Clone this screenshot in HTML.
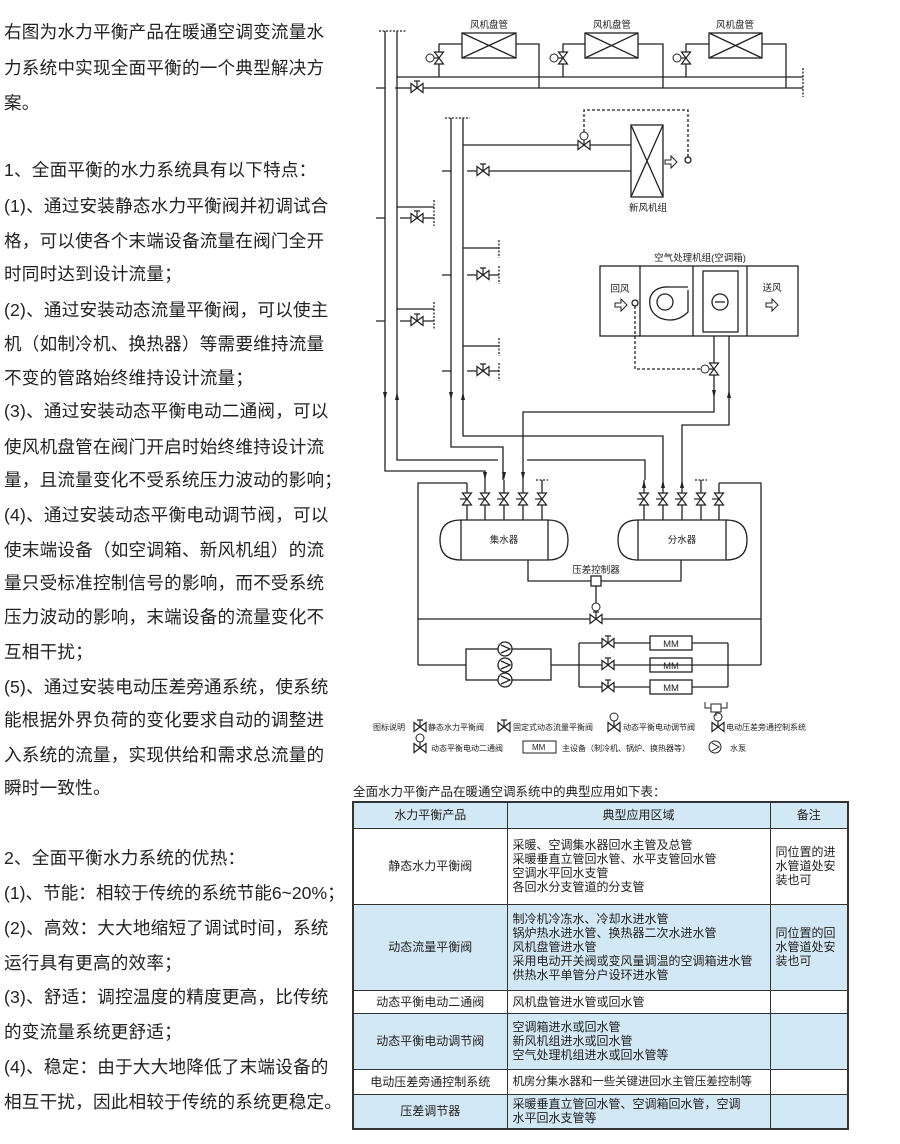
<!DOCTYPE html>
<html><head><meta charset="utf-8"><style>
body{margin:0;width:900px;height:1144px;background:#fff;position:relative;overflow:hidden;font-family:"Liberation Sans","Noto Sans CJK SC",sans-serif;color:#222}
.l{position:absolute;left:4px;font-size:17.6px;line-height:20px;white-space:nowrap;letter-spacing:0.2px}
svg{position:absolute;left:0;top:0}
svg text{font-family:"Liberation Sans","Noto Sans CJK SC",sans-serif;fill:#222}
table{position:absolute;left:352px;top:801px;width:497px;border-collapse:collapse;font-size:12px;line-height:14px;border:2px solid #333}
td{border:1.5px solid #333;padding:0 5px;vertical-align:middle}
.b{background:#d3e8f5}
.c{text-align:center}
.cap{position:absolute;left:353px;top:781px;font-size:12.5px;white-space:nowrap}
</style></head><body>
<div class="l" style="top:22px">右图为水力平衡产品在暖通空调变流量水</div>
<div class="l" style="top:58px">力系统中实现全面平衡的一个典型解决方</div>
<div class="l" style="top:93px">案。</div>
<div class="l" style="top:160px">1、全面平衡的水力系统具有以下特点：</div>
<div class="l" style="top:196px">(1)、通过安装静态水力平衡阀并初调试合</div>
<div class="l" style="top:231px">格，可以使各个末端设备流量在阀门全开</div>
<div class="l" style="top:264px">时同时达到设计流量；</div>
<div class="l" style="top:300px">(2)、通过安装动态流量平衡阀，可以使主</div>
<div class="l" style="top:334px">机（如制冷机、换热器）等需要维持流量</div>
<div class="l" style="top:368px">不变的管路始终维持设计流量；</div>
<div class="l" style="top:401px">(3)、通过安装动态平衡电动二通阀，可以</div>
<div class="l" style="top:437px">使风机盘管在阀门开启时始终维持设计流</div>
<div class="l" style="top:470px">量，且流量变化不受系统压力波动的影响；</div>
<div class="l" style="top:505px">(4)、通过安装动态平衡电动调节阀，可以</div>
<div class="l" style="top:540px">使末端设备（如空调箱、新风机组）的流</div>
<div class="l" style="top:573px">量只受标准控制信号的影响，而不受系统</div>
<div class="l" style="top:607px">压力波动的影响，末端设备的流量变化不</div>
<div class="l" style="top:642px">互相干扰；</div>
<div class="l" style="top:677px">(5)、通过安装电动压差旁通系统，使系统</div>
<div class="l" style="top:710px">能根据外界负荷的变化要求自动的调整进</div>
<div class="l" style="top:745px">入系统的流量，实现供给和需求总流量的</div>
<div class="l" style="top:778px">瞬时一致性。</div>
<div class="l" style="top:848px">2、全面平衡水力系统的优热：</div>
<div class="l" style="top:883px;letter-spacing:0">(1)、节能：相较于传统的系统节能6~20%；</div>
<div class="l" style="top:918px">(2)、高效：大大地缩短了调试时间，系统</div>
<div class="l" style="top:953px">运行具有更高的效率；</div>
<div class="l" style="top:987px">(3)、舒适：调控温度的精度更高，比传统</div>
<div class="l" style="top:1022px">的变流量系统更舒适；</div>
<div class="l" style="top:1057px">(4)、稳定：由于大大地降低了末端设备的</div>
<div class="l" style="top:1092px">相互干扰，因此相较于传统的系统更稳定。</div>

<svg width="900" height="780" viewBox="0 0 900 780">
<defs>
<g id="v"><path d="M-6,-4.5 L6,4.5 L6,-4.5 L-6,4.5 Z" fill="#fff" stroke="#222" stroke-width="1.2"/><path d="M0,0 V-7 M-3,-7 H3" stroke="#222" stroke-width="1.2"/></g>
<g id="vv"><path d="M-4.5,-6 L4.5,6 L-4.5,6 L4.5,-6 Z" fill="#fff" stroke="#222" stroke-width="1.2"/><path d="M0,0 H-7" stroke="#222" stroke-width="1.2"/></g>
<g id="g"><circle r="4" fill="#fff" stroke="#222" stroke-width="1"/></g>
</defs>
<g stroke="#222" stroke-width="1.3" fill="none">
<path d="M385,31 V471 H485 V480 M397,31 V460 H498 M527,460 H645 V480"/>
<path d="M379,31 H406 M445,118 H470" stroke-dasharray="2,1.5"/>
<path d="M451,118 V447 H503 V480 M463,118 V436 H663 V480"/>
<path d="M714,336 V412 H523 V480 M729,336 V425 H682 V480"/>
<path d="M397,77 H803 M395,88 H803"/>
<path d="M803,68 V97 M434,200 V226 M434,302 V330 M499,240 V258 M499,266 V284 M499,338 V356 M499,363 V381" stroke-dasharray="2,1.5"/>
<rect x="462" y="33" width="54" height="25"/><path d="M462,33 L516,58 M516,33 L462,58"/>
<rect x="585" y="33" width="53" height="25"/><path d="M585,33 L638,58 M638,33 L585,58"/>
<rect x="709" y="33" width="53" height="25"/><path d="M709,33 L762,58 M762,33 L709,58"/>
<path d="M439,77 V44 H462 M516,44 H539 V88 M563,77 V44 H585 M638,44 H663 V88 M686,77 V44 H709 M762,44 H786 V88"/>
<rect x="631" y="125" width="32" height="72"/><path d="M631,125 L663,197 M663,125 L631,197"/>
<path d="M463,145 H631 M467,171 H631"/>
<path d="M584,132 V110 H688 V157" stroke-dasharray="3,2"/>
<circle cx="688" cy="160" r="3"/>
<path d="M397,207 H434 M400,218 H434 M397,309 H434 M400,321 H434 M463,248 H499 M467,275 H499 M463,346 H499 M467,371 H499"/>
<path d="M376,88 H385 M376,218 H385 M376,321 H385 M442,171 H451 M442,275 H451 M442,371 H451"/>
<rect x="600" y="266" width="198" height="70"/>
<path d="M640,266 V336 M693,266 V336 M747,266 V336"/>
<rect x="703" y="271" width="35" height="61"/>
<circle cx="720" cy="302" r="8"/><path d="M715,302 H725"/>
<circle cx="665" cy="302" r="8"/><path d="M688,290 V312 Q676,324 660,318 Q648,312 650,298 Q654,286 670,287 H688"/>
<circle cx="635" cy="303" r="3"/>
<path d="M635,306 V369 H700" stroke-dasharray="3,2"/>
<path d="M461,520 H548 Q568,520 568,540 Q568,560 548,560 H461 Q440,560 440,540 Q440,520 461,520 Z M461,520 V560 M548,520 V560"/>
<path d="M638,520 H726 Q747,520 747,540 Q747,560 726,560 H638 Q618,560 618,540 Q618,520 638,520 Z M638,520 V560 M726,520 V560"/>
<path d="M467,483 V520 M485,480 V520 M504,480 V520 M523,480 V520 M542,480 V520 M644,480 V520 M663,480 V520 M682,480 V520 M701,480 V520 M719,483 V520"/>
<path d="M536,480 H548 M695,480 H707" stroke-dasharray="2,1.5"/>
<path d="M467,483 H418 V665 M719,483 H761 V665"/>
<path d="M528,560 V581 H591 M601,581 H681 V560"/>
<rect x="591" y="576" width="10" height="10"/>
<path d="M596,586 V603 M418,619 H761 M418,665 H466 M551,665 H761"/>
<rect x="466" y="649" width="85" height="31"/>
<path d="M579,643 V687 M728,643 V687 M579,643 H650 M692,643 H728 M579,687 H650 M692,687 H728"/>
<rect x="650" y="636" width="42" height="14"/><rect x="650" y="658" width="42" height="14"/><rect x="650" y="680" width="42" height="14"/>
<g fill="#fff"><circle cx="505" cy="649" r="7"/><circle cx="505" cy="665" r="7"/><circle cx="505" cy="680" r="7"/></g>
<path d="M501,645 L510,649 L501,653 M501,661 L510,665 L501,669 M501,676 L510,680 L501,684"/>
</g>
<g fill="#222"><path d="M383,392 L387,392 L385,400Z M395,400 L399,400 L397,392Z M449,392 L453,392 L451,400Z M461,400 L465,400 L463,392Z M712,390 L716,390 L714,398Z M727,398 L731,398 L729,390Z M483,472 L487,472 L485,480Z M502,472 L506,472 L504,480Z M521,472 L525,472 L523,480Z M642,488 L646,488 L644,480Z M661,488 L665,488 L663,480Z M680,488 L684,488 L682,480Z"/></g>
<use href="#vv" x="439" y="58"/><use href="#vv" x="563" y="58"/><use href="#vv" x="686" y="58"/>
<use href="#g" x="430" y="58"/><use href="#g" x="554" y="58"/><use href="#g" x="677" y="58"/>
<use href="#v" x="417" y="88"/><use href="#v" x="417" y="218"/><use href="#v" x="417" y="321"/>
<use href="#v" x="483" y="171"/><use href="#v" x="483" y="275"/><use href="#v" x="483" y="371"/>
<use href="#v" x="584" y="145"/><use href="#g" x="584" y="136"/>
<use href="#vv" x="714" y="369"/><use href="#g" x="705" y="369"/>
<use href="#vv" x="467" y="499"/><use href="#vv" x="485" y="499"/><use href="#vv" x="504" y="499"/><use href="#vv" x="523" y="499"/><use href="#vv" x="542" y="499"/>
<use href="#vv" x="644" y="499"/><use href="#vv" x="663" y="499"/><use href="#vv" x="682" y="499"/><use href="#vv" x="701" y="499"/><use href="#vv" x="719" y="499"/>
<use href="#v" x="596" y="619"/><use href="#g" x="596" y="607"/>
<use href="#v" x="608" y="643"/><use href="#v" x="608" y="665"/><use href="#v" x="608" y="687"/>
<path d="M665,160 h6 v-4 l6,6 l-6,6 v-4 h-6z M615,303 h6 v-4 l6,6 l-6,6 v-4 h-6z M766,303 h6 v-4 l6,6 l-6,6 v-4 h-6z" fill="#fff" stroke="#222"/>
<g font-size="9.5" text-anchor="middle">
<text x="489" y="28">风机盘管</text><text x="612" y="28">风机盘管</text><text x="735" y="28">风机盘管</text>
<text x="648" y="211">新风机组</text><text x="700" y="261">空气处理机组(空调箱)</text>
<text x="620" y="292">回风</text><text x="772" y="291">送风</text>
<text x="504" y="543">集水器</text><text x="682" y="543">分水器</text>
<text x="596" y="573">压差控制器</text>
<text x="671" y="647">MM</text><text x="671" y="669">MM</text><text x="671" y="691">MM</text>
</g>
<g font-size="8">
<text x="373" y="730">图标说明</text><use href="#v" x="420" y="727"/><text x="428" y="730">静态水力平衡阀</text>
<use href="#v" x="504" y="727"/><text x="513" y="730">固定式动态流量平衡阀</text>
<use href="#v" x="614" y="727"/><use href="#g" x="614" y="717"/><text x="623" y="730">动态平衡电动调节阀</text>
<use href="#v" x="718" y="727"/><use href="#g" x="718" y="717"/><text x="726" y="730">电动压差旁通控制系统</text>
<use href="#v" x="420" y="748"/><use href="#g" x="420" y="738"/><text x="431" y="751">动态平衡电动二通阀</text>
<rect x="523" y="741" width="33" height="12" fill="none" stroke="#222"/><text x="532" y="750">MM</text>
<text x="562" y="751">主设备（制冷机、锅炉、换热器等）</text>
<circle cx="715" cy="747" r="6" fill="none" stroke="#222"/><path d="M712,743 L719,747 L712,751" fill="none" stroke="#222"/>
<text x="730" y="751">水泵</text>
</g>
<path d="M711,712 h10 v-8 h-10z M716,712 v4 M711,708 h-6 v-6 M721,708 h6 v-6" fill="none" stroke="#222"/>
</svg>

<div class="cap">全面水力平衡产品在暖通空调系统中的典型应用如下表：</div>
<table>
<colgroup><col style="width:154px"><col style="width:263px"><col></colgroup>
<tr class="b" style="height:26px"><td class="c">水力平衡产品</td><td class="c">典型应用区域</td><td class="c">备注</td></tr>
<tr style="height:76px"><td class="c">静态水力平衡阀</td><td>采暖、空调集水器回水主管及总管<br>采暖垂直立管回水管、水平支管回水管<br>空调水平回水支管<br>各回水分支管道的分支管</td><td>同位置的进<br>水管道处安<br>装也可</td></tr>
<tr class="b" style="height:86px"><td class="c">动态流量平衡阀</td><td>制冷机冷冻水、冷却水进水管<br>锅炉热水进水管、换热器二次水进水管<br>风机盘管进水管<br>采用电动开关阀或变风量调温的空调箱进水管<br>供热水平单管分户设环进水管</td><td>同位置的回<br>水管道处安<br>装也可</td></tr>
<tr style="height:23px"><td class="c">动态平衡电动二通阀</td><td>风机盘管进水管或回水管</td><td></td></tr>
<tr class="b" style="height:56px"><td class="c">动态平衡电动调节阀</td><td>空调箱进水或回水管<br>新风机组进水或回水管<br>空气处理机组进水或回水管等</td><td></td></tr>
<tr style="height:25px"><td class="c">电动压差旁通控制系统</td><td style="white-space:nowrap;font-size:11.6px;letter-spacing:-0.2px">机房分集水器和一些关键进回水主管压差控制等</td><td></td></tr>
<tr class="b" style="height:35px"><td class="c">压差调节器</td><td>采暖垂直立管回水管、空调箱回水管，空调<br>水平回水支管等</td><td></td></tr>
</table>
</body></html>
